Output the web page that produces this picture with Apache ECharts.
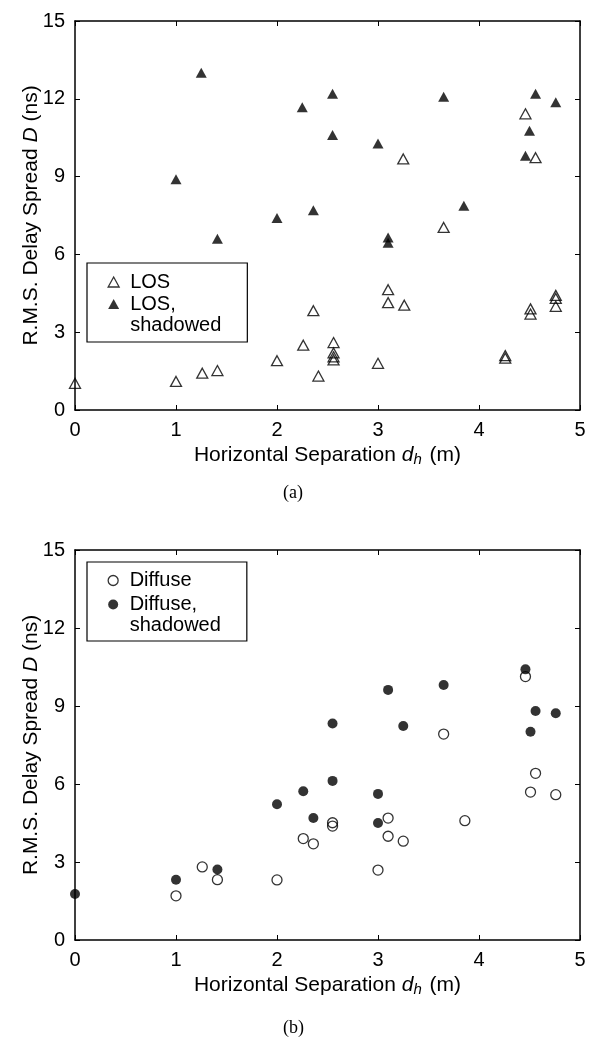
<!DOCTYPE html>
<html>
<head>
<meta charset="utf-8">
<script src="https://cdn.jsdelivr.net/npm/echarts@6/dist/echarts.min.js"></script>
<style>
html,body{margin:0;padding:0;background:#fff;}
#chart{width:594px;height:1040px;}
</style>
</head>
<body>
<div id="chart"></div>
<script>
// ---- Data (x = horizontal separation d_h in m, y = RMS delay spread D in ns) ----
const xTicks = [0, 1, 2, 3, 4, 5];
const yTicks = [0, 3, 6, 9, 12, 15];

// (a) LOS, open triangles
const losPoints = [
  [0, 1.03], [1.0, 1.1], [1.26, 1.42], [1.41, 1.52], [2.0, 1.9], [2.26, 2.5],
  [2.36, 3.83], [2.41, 1.31], [2.56, 2.6], [2.56, 2.2], [2.56, 2.05], [2.56, 1.93],
  [3.0, 1.8], [3.1, 4.64], [3.1, 4.14], [3.26, 4.04], [3.25, 9.68], [3.65, 7.04],
  [4.26, 2.1], [4.26, 2.0], [4.51, 3.9], [4.51, 3.7], [4.46, 11.42], [4.56, 9.73],
  [4.76, 4.42], [4.76, 4.3], [4.76, 4.0]
];
// (a) LOS, shadowed, filled triangles
const losShadowedPoints = [
  [1.0, 8.9], [1.25, 13.0], [1.41, 6.6], [2.0, 7.4], [2.25, 11.67], [2.36, 7.7],
  [2.55, 12.19], [2.55, 10.6], [3.0, 10.28], [3.1, 6.65], [3.1, 6.45], [3.65, 12.08],
  [3.85, 7.88], [4.46, 9.8], [4.5, 10.77], [4.56, 12.19], [4.76, 11.87]
];
// (b) Diffuse, open circles
const diffusePoints = [
  [1.0, 1.7], [1.26, 2.81], [1.41, 2.32], [2.0, 2.31], [2.26, 3.9], [2.36, 3.7],
  [2.55, 4.51], [2.55, 4.38], [3.0, 2.69], [3.1, 4.69], [3.1, 3.99], [3.25, 3.8],
  [3.65, 7.92], [3.86, 4.59], [4.46, 10.13], [4.51, 5.69], [4.56, 6.41], [4.76, 5.59]
];
// (b) Diffuse, shadowed, filled circles
const diffuseShadowedPoints = [
  [0, 1.77], [1.0, 2.32], [1.41, 2.71], [2.0, 5.22], [2.26, 5.72], [2.36, 4.69],
  [2.55, 6.12], [2.55, 8.33], [3.0, 5.62], [3.0, 4.5], [3.1, 9.62], [3.25, 8.23],
  [3.65, 9.81], [4.46, 10.41], [4.51, 8.01], [4.56, 8.81], [4.76, 8.72]
];

const seriesNames = ['LOS', 'LOS, shadowed', 'Diffuse', 'Diffuse, shadowed'];
const captions = ['(a)', '(b)'];
const xName = 'Horizontal Separation {i|d}{s|h} (m)';
const yName = 'R.M.S. Delay Spread {i|D} (ns)';

// ---- Styling ----
const FONT = 'Liberation Sans, Arial, Helvetica, sans-serif';
const BLACK = '#000';
const NAME_SIZE = 21;
const richName = {
  i: { fontStyle: 'italic', fontSize: NAME_SIZE, fontFamily: FONT, color: BLACK },
  s: { fontStyle: 'italic', fontSize: 15, fontFamily: FONT, color: BLACK, padding: [9, 2, 0, 0] }
};

function grids() {
  return [
    { left: 75, top: 21, width: 505, height: 389 },
    { left: 75, top: 550, width: 505, height: 390 }
  ];
}

function xAxes(gi) {
  const common = {
    gridIndex: gi, type: 'value', min: xTicks[0], max: xTicks[xTicks.length - 1], interval: 1,
    axisLine: { show: true, onZero: false, lineStyle: { color: BLACK, width: 1.5 } },
    axisTick: { show: true, inside: true, length: 5, lineStyle: { color: BLACK, width: 1 } },
    splitLine: { show: false }
  };
  return [
    Object.assign({}, common, {
      position: 'bottom',
      axisLabel: { color: BLACK, fontSize: 20, fontFamily: FONT, margin: 10 },
      name: xName, nameLocation: 'middle', nameGap: 33, nameMoveOverlap: false,
      nameTextStyle: { color: BLACK, fontSize: NAME_SIZE, fontFamily: FONT, rich: richName }
    }),
    Object.assign({}, common, { position: 'top', axisLabel: { show: false } })
  ];
}

function yAxes(gi) {
  const common = {
    gridIndex: gi, type: 'value', min: yTicks[0], max: yTicks[yTicks.length - 1], interval: 3,
    axisLine: { show: true, onZero: false, lineStyle: { color: BLACK, width: 1.5 } },
    axisTick: { show: true, inside: true, length: 5, lineStyle: { color: BLACK, width: 1 } },
    splitLine: { show: false }
  };
  return [
    Object.assign({}, common, {
      position: 'left',
      axisLabel: { color: BLACK, fontSize: 20, fontFamily: FONT, margin: 10 },
      name: yName, nameLocation: 'middle', nameGap: 33, nameRotate: 90, nameMoveOverlap: false,
      nameTextStyle: { color: BLACK, fontSize: NAME_SIZE, fontFamily: FONT, rich: richName }
    }),
    Object.assign({}, common, { position: 'right', axisLabel: { show: false } })
  ];
}

const openStyle = { color: 'rgba(255,255,255,0)', borderColor: BLACK, borderWidth: 1.3 };
const fillStyle = { color: BLACK, borderColor: BLACK, borderWidth: 0 };

function scatter(name, data, gi, symbol, size, style) {
  return {
    type: 'scatter', name: name, data: data,
    xAxisIndex: gi * 2, yAxisIndex: gi * 2,
    symbol: symbol, symbolSize: size, clip: false,
    itemStyle: style, emphasis: { disabled: true }, silent: true
  };
}

const legendRich = {
  t: { color: BLACK, fontSize: 20, fontFamily: FONT, lineHeight: 21, padding: [0, 0, 0, 6] }
};

function legend(names, top, icon, gap, padTop, padBottom) {
  return {
    orient: 'vertical', left: 87, top: top,
    padding: [padTop, 26, padBottom, 20.5], itemGap: gap,
    itemWidth: 11, itemHeight: 10,
    borderColor: BLACK, borderWidth: 1.2, backgroundColor: '#fff',
    textStyle: { color: BLACK, fontSize: 20, fontFamily: FONT, lineHeight: 21, rich: legendRich },
    selectedMode: false,
    data: [
      { name: names[0], icon: icon, itemStyle: { color: '#fff', borderColor: BLACK, borderWidth: 1.3 } },
      { name: names[1], icon: icon, itemStyle: { color: BLACK, borderColor: BLACK, borderWidth: 0 } }
    ],
    formatter: function (n) {
      if (n.indexOf(', ') >= 0) {
        const parts = n.split(', ');
        // blank first line keeps the first text line level with the icon
        return '{t| }\n{t|' + parts[0] + ',}\n{t|' + parts[1] + '}';
      }
      return '{t|' + n + '}';
    }
  };
}

const chart = echarts.init(document.getElementById('chart'), null, { renderer: 'canvas' });
chart.setOption({
  animation: false,
  backgroundColor: '#fff',
  grid: grids(),
  xAxis: xAxes(0).concat(xAxes(1)),
  yAxis: yAxes(0).concat(yAxes(1)),
  title: [
    { text: captions[0], left: 278, top: 479, textStyle: { fontFamily: 'Liberation Serif, Times New Roman, serif', fontWeight: 'normal', fontSize: 18, color: BLACK } },
    { text: captions[1], left: 278, top: 1014, textStyle: { fontFamily: 'Liberation Serif, Times New Roman, serif', fontWeight: 'normal', fontSize: 18, color: BLACK } }
  ],
  legend: [
    legend([seriesNames[0], seriesNames[1]], 263, 'triangle', -20, 8.5, 6.5),
    legend([seriesNames[2], seriesNames[3]], 562, 'circle', -18, 8, 5)
  ],
  series: [
    scatter(seriesNames[0], losPoints, 0, 'triangle', [11, 10], openStyle),
    scatter(seriesNames[1], losShadowedPoints, 0, 'triangle', [11, 10], fillStyle),
    scatter(seriesNames[2], diffusePoints, 1, 'circle', 10, openStyle),
    scatter(seriesNames[3], diffuseShadowedPoints, 1, 'circle', 10, fillStyle)
  ]
});
</script>
</body>
</html>
